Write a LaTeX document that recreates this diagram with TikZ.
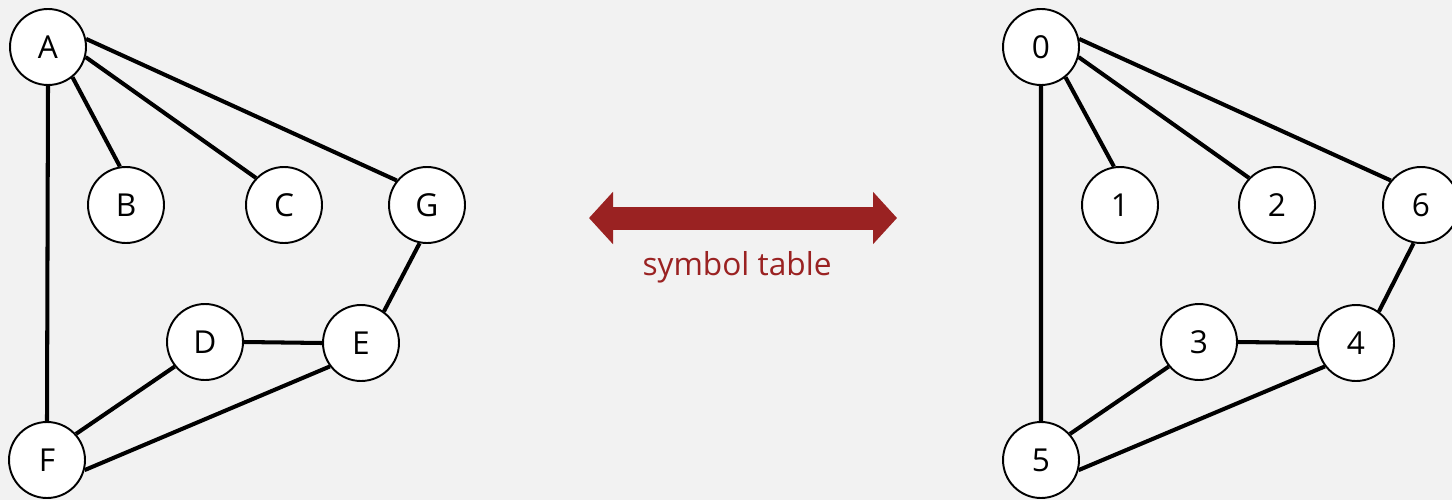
\documentclass[tikz,border=0pt]{standalone}
\usepackage{fontspec}
\setmainfont{Open Sans}
\usetikzlibrary{arrows.meta}
\definecolor{stred}{HTML}{9A2222}
\definecolor{bg}{HTML}{F2F2F2}

\begin{document}
\begin{tikzpicture}[x=0.02cm,y=-0.02cm]
\tikzset{v/.style={circle,draw,fill=white,line width=1.1pt,minimum size=1.52cm,inner sep=0pt,font=\fontsize{18}{20}\selectfont}}
\tikzset{e/.style={line width=2.3pt}}

\fill[bg] (0,0) rectangle (1452,500);
\useasboundingbox (0,0) rectangle (1452,500);

% left graph
\node[v] (A) at (48,47) {A};
\node[v] (B) at (126,205) {B};
\node[v] (C) at (284,205) {C};
\node[v] (G) at (427,205) {G};
\node[v] (D) at (205,342) {D};
\node[v] (E) at (361,343) {E};
\node[v] (F) at (47,460) {F};
\draw[e] (A.south)--(F.north) (A.309)--(B.99) (A.345)--(C.136) (A.12)--(G.141);
\draw[e] (G.259)--(E.54) (D.east)--(E.west) (D.219)--(F.42) (E.217)--(F.345);

% right graph
\node[v] (0) at (1041,47) {0};
\node[v] (1) at (1120,205) {1};
\node[v] (2) at (1277,205) {2};
\node[v] (6) at (1421,205) {6};
\node[v] (3) at (1199,342) {3};
\node[v] (4) at (1356,343) {4};
\node[v] (5) at (1041,460) {5};
\draw[e] (0.south)--(5.north) (0.309)--(1.99) (0.345)--(2.136) (0.12)--(6.141);
\draw[e] (6.259)--(4.54) (3.east)--(4.west) (3.219)--(5.42) (4.217)--(5.345);

% symbol table arrow
\coordinate (l) at (589,218);
\coordinate (r) at (897,218);
\draw[stred,line width=0.46cm,{Triangle[length=0.48cm,width=1.02cm]}-{Triangle[length=0.48cm,width=1.02cm]}] (l) -- (r);
\node[stred,font=\fontsize{18}{20}\selectfont] (st) at (737,267) {symbol table};
\end{tikzpicture}
\end{document}
